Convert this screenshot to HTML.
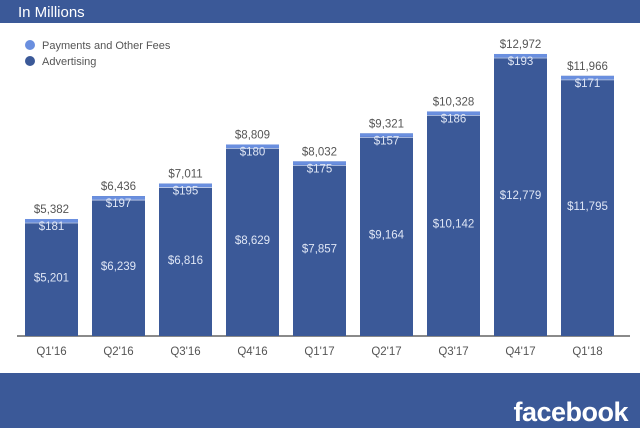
<!DOCTYPE html>
<html><head><style>
body{margin:0;width:640px;height:428px;overflow:hidden;background:#fff;font-family:"Liberation Sans",Arial,sans-serif;}
</style></head><body>
<svg width="640" height="428" xmlns="http://www.w3.org/2000/svg" font-family="Liberation Sans, Arial, sans-serif">
<rect x="0" y="0" width="640" height="23" fill="#3b5998"/>
<text x="18" y="17" fill="#fff" font-size="15">In Millions</text>
<circle cx="30" cy="45" r="5" fill="#6a8fdf"/>
<text x="42" y="49" font-size="11" fill="#555">Payments and Other Fees</text>
<circle cx="30" cy="61" r="5" fill="#3b5998"/>
<text x="42" y="65" font-size="11" fill="#555">Advertising</text>
<line x1="17" y1="336" x2="630" y2="336" stroke="#444" stroke-width="1.2"/>
<g id="bars" font-size="11.5" text-anchor="middle"></g>
<rect x="0" y="373" width="640" height="55" fill="#3b5998"/>
<text x="628" y="421" text-anchor="end" fill="#fff" font-size="27" font-weight="bold" letter-spacing="-0.5">facebook</text>
</svg>
<script>
var d=[["Q1'16",5201,181,"$5,382"],["Q2'16",6239,197,"$6,436"],["Q3'16",6816,195,"$7,011"],["Q4'16",8629,180,"$8,809"],["Q1'17",7857,175,"$8,032"],["Q2'17",9164,157,"$9,321"],["Q3'17",10142,186,"$10,328"],["Q4'17",12779,193,"$12,972"],["Q1'18",11795,171,"$11,966"]];
var s=0.02174,g=document.getElementById('bars'),h='';
function f(n){return '$'+n.toLocaleString('en-US');}
d.forEach(function(r,i){var x=25+i*67,w=53,tot=r[1]+r[2],top=336-tot*s,at=336-r[1]*s;
h+='<rect x="'+x+'" y="'+top+'" width="'+w+'" height="'+(336-top)+'" fill="#3b5998"/>';
h+='<rect x="'+x+'" y="'+top+'" width="'+w+'" height="3.5" fill="#6a8fdf"/>';
h+='<line x1="'+x+'" y1="'+(top+4)+'" x2="'+(x+w)+'" y2="'+(top+4)+'" stroke="#c8d4ef" stroke-width="0.8"/>';
var cx=x+w/2;
h+='<text x="'+cx+'" y="'+(top-6)+'" fill="#555">'+r[3]+'</text>';
h+='<text x="'+cx+'" y="'+(top+11)+'" fill="#dfe6f5">'+f(r[2])+'</text>';
h+='<text x="'+cx+'" y="'+((top+336)/2+4)+'" fill="#dfe6f5">'+f(r[1])+'</text>';
h+='<text x="'+cx+'" y="'+355+'" fill="#555">'+r[0]+'</text>';});
g.innerHTML=h;
</script>
</body></html>
